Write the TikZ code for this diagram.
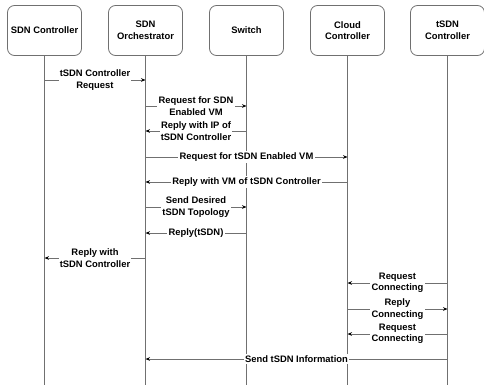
\documentclass[tikz,border=0pt]{standalone}
\usepackage{fontspec}
\setmainfont{Liberation Sans}
\usetikzlibrary{arrows.meta}
\definecolor{lnclr}{RGB}{112,112,112}
\tikzset{
  actor/.style={draw=lnclr, line width=0.8pt, rounded corners=7pt, minimum width=74pt, minimum height=50pt, align=center, inner sep=1pt, font=\fontsize{9.4}{11.5}\selectfont\bfseries},
  life/.style={draw=lnclr, line width=1pt},
  msg/.style={draw=lnclr, line width=0.8pt, -{Stealth[length=4.5pt,width=3.6pt,color=black]}},
  lbl/.style={fill=white, inner sep=1.2pt, align=center, font=\fontsize{9.4}{11.5}\selectfont\bfseries}
}
\begin{document}
\begin{tikzpicture}[x=1pt,y=-1pt]
\useasboundingbox (0,0) rectangle (484,385);
\node[actor] (a1) at (44.5,30.5) {SDN Controller};
\node[actor] (a2) at (145.5,30.5) {SDN\\Orchestrator};
\node[actor] (a3) at (246.5,30.5) {Switch};
\node[actor] (a4) at (347.5,30.5) {Cloud\\Controller};
\node[actor] (a5) at (447.5,30.5) {tSDN\\Controller};
\foreach \i in {1,...,5} {
  \coordinate (e\i) at (a\i.south |- 0,385);
  \draw[life] (a\i.south) -- (e\i);
}
\draw[msg] (a1.south |- 0,80) -- (a2.south |- 0,80) node[lbl,midway] {tSDN Controller\\Request};
\draw[msg] (a2.south |- 0,106) -- (a3.south |- 0,106) node[lbl,midway] {Request for SDN\\Enabled VM};
\draw[msg] (a3.south |- 0,131) -- (a2.south |- 0,131) node[lbl,midway] {Reply with IP of\\tSDN Controller};
\draw[msg] (a2.south |- 0,157) -- (a4.south |- 0,157) node[lbl,midway] {Request for tSDN Enabled VM};
\draw[msg] (a4.south |- 0,182) -- (a2.south |- 0,182) node[lbl,midway] {Reply with VM of tSDN Controller};
\draw[msg] (a2.south |- 0,207) -- (a3.south |- 0,207) node[lbl,midway] {Send Desired\\tSDN Topology};
\draw[msg] (a3.south |- 0,233) -- (a2.south |- 0,233) node[lbl,midway] {Reply(tSDN)};
\draw[msg] (a2.south |- 0,258) -- (a1.south |- 0,258) node[lbl,midway] {Reply with\\tSDN Controller};
\draw[msg] (a5.south |- 0,283) -- (a4.south |- 0,283) node[lbl,midway] {Request\\Connecting};
\draw[msg] (a4.south |- 0,309) -- (a5.south |- 0,309) node[lbl,midway] {Reply\\Connecting};
\draw[msg] (a5.south |- 0,334) -- (a4.south |- 0,334) node[lbl,midway] {Request\\Connecting};
\draw[msg] (a5.south |- 0,359) -- (a2.south |- 0,359) node[lbl,midway] {Send tSDN Information};
\end{tikzpicture}
\end{document}
